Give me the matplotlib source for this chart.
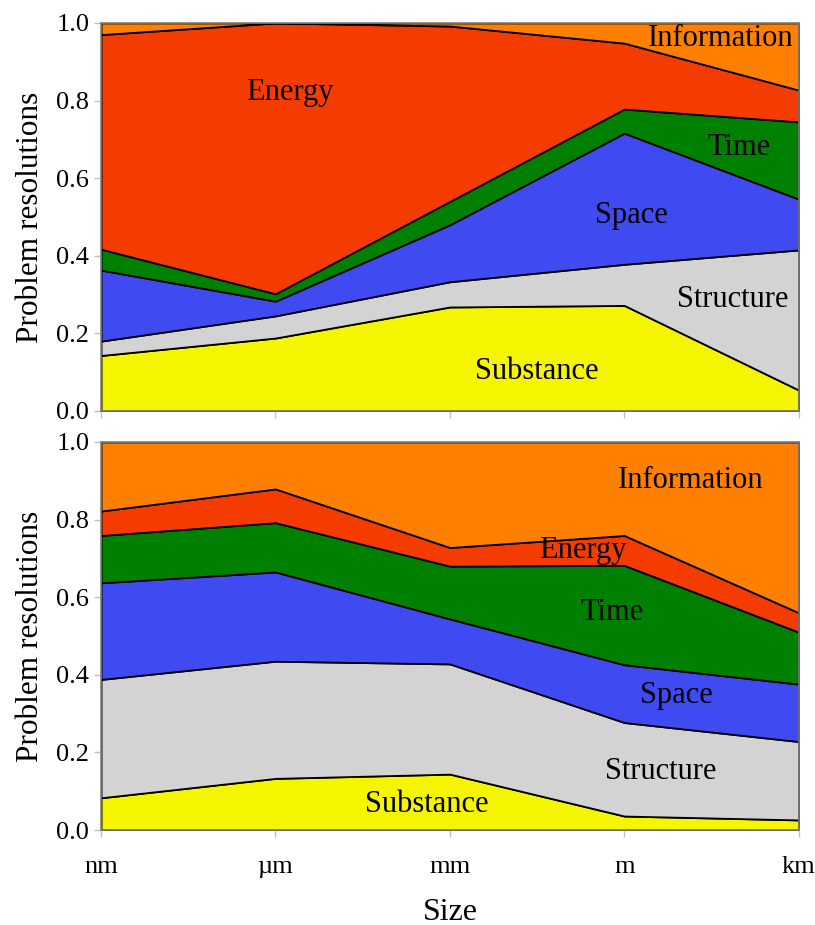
import numpy as np
import matplotlib.pyplot as plt

plt.rcParams['font.family'] = ['Liberation Serif', 'DejaVu Serif']

sizes = ["nm", "\u00b5m", "mm", "m", "km"]
names = ["Substance", "Structure", "Space", "Time", "Energy", "Information"]
colors = ["#f5f500", "#d3d3d3", "#3f4af0", "#008000", "#f53c00", "#ff8000"]

# top panel
top_substance = [0.143, 0.188, 0.268, 0.272, 0.054]
top_structure = [0.037, 0.057, 0.065, 0.106, 0.361]
top_space = [0.183, 0.038, 0.147, 0.338, 0.131]
top_time = [0.054, 0.019, 0.060, 0.062, 0.199]
top_energy = [0.553, 0.698, 0.452, 0.170, 0.082]
top_information = [0.030, 0.000, 0.008, 0.052, 0.173]

# bottom panel
bot_substance = [0.083, 0.133, 0.144, 0.036, 0.026]
bot_structure = [0.305, 0.302, 0.284, 0.241, 0.202]
bot_space = [0.249, 0.230, 0.116, 0.149, 0.148]
bot_time = [0.122, 0.127, 0.136, 0.256, 0.134]
bot_energy = [0.063, 0.087, 0.048, 0.077, 0.050]
bot_information = [0.178, 0.121, 0.272, 0.241, 0.440]

top_labels = {"Energy": (1.08, 0.82), "Information": (3.55, 0.96), "Time": (3.66, 0.68),
              "Space": (3.04, 0.505), "Structure": (3.62, 0.286), "Substance": (2.5, 0.103)}
bot_labels = {"Information": (3.38, 0.90), "Energy": (2.76, 0.72), "Time": (2.93, 0.56),
              "Space": (3.30, 0.346), "Structure": (3.21, 0.152), "Substance": (1.87, 0.065)}

x = np.arange(len(sizes))

fig = plt.figure(figsize=(8.15, 9.25), dpi=100)
ax1 = fig.add_axes([0.124, 0.5557, 0.856, 0.4195])
ax2 = fig.add_axes([0.124, 0.1027, 0.856, 0.4195])

panels = [
    (ax1, [top_substance, top_structure, top_space, top_time, top_energy, top_information], top_labels),
    (ax2, [bot_substance, bot_structure, bot_space, bot_time, bot_energy, bot_information], bot_labels),
]

for ax, series, labels in panels:
    ax.stackplot(x, *series, colors=colors, edgecolor="black", linewidth=1.3)
    ax.set_xlim(0, 4)
    ax.set_ylim(0, 1)
    ax.set_yticks(np.arange(0, 1.01, 0.2))
    ax.set_yticklabels([f"{v:.1f}" for v in np.arange(0, 1.01, 0.2)])
    ax.set_xticks(x)
    ax.set_ylabel("Problem resolutions", fontsize=22.5, labelpad=8)
    ax.tick_params(axis="both", labelsize=19, color="#c0c0c0", length=5, width=1)
    for s in ax.spines.values():
        s.set_color("#808080")
        s.set_linewidth(1.2)
    for name, (tx, ty) in labels.items():
        ax.text(tx, ty, name, fontsize=22, ha="center", va="center")

ax1.set_xticklabels([])
ax2.set_xticklabels(sizes)
ax2.tick_params(axis="x", pad=14)
ax2.set_xlabel("Size", fontsize=23, labelpad=14)

fig.savefig("out.png", dpi=100)
